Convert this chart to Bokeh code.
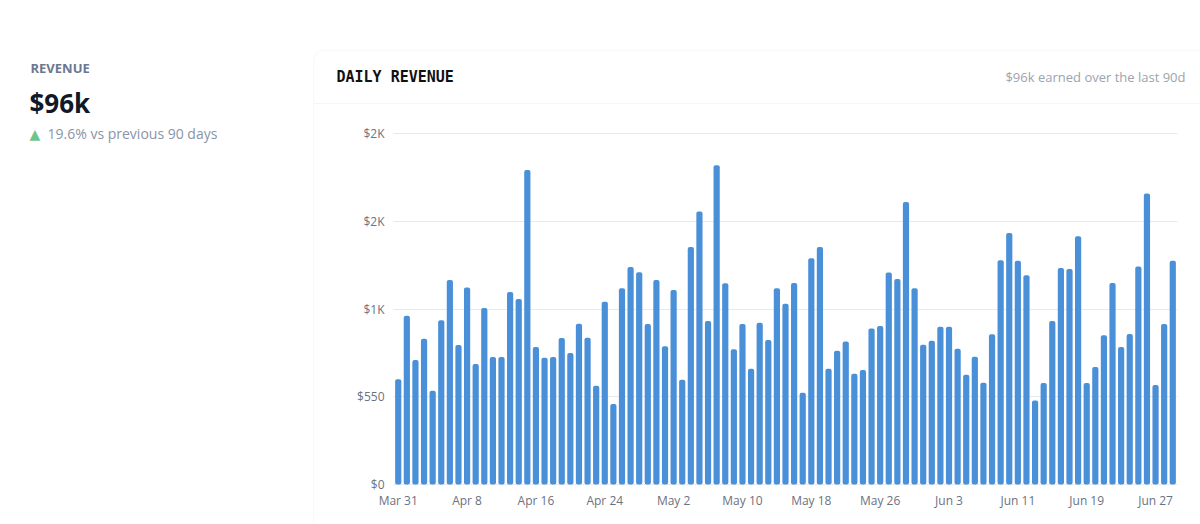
from bokeh.plotting import figure
from bokeh.models import ColumnDataSource, FixedTicker, Label, BoxAnnotation, Range1d, Grid
from bokeh.embed import file_html
from bokeh.resources import INLINE

# ---------------- data ----------------
revenue = [
    659, 1058, 780, 914, 588, 1029, 1282, 874, 1234, 755,
    1106, 799, 799, 1207, 1163, 1972, 862, 795, 799, 918,
    824, 1008, 920, 619, 1146, 504, 1230, 1363, 1330, 1006,
    1282, 866, 1219, 657, 1489, 1711, 1025, 2001, 1261, 847,
    1006, 726, 1014, 905, 1230, 1133, 1263, 575, 1418, 1489,
    726, 839, 897, 694, 717, 977, 993, 1328, 1288, 1771,
    1230, 876, 901, 989, 989, 851, 688, 801, 638, 941,
    1405, 1577, 1403, 1311, 527, 636, 1025, 1357, 1351, 1556,
    636, 736, 935, 1263, 862, 943, 1366, 1824, 623, 1006,
    1403,
]
day_index = list(range(len(revenue)))
x_tick_positions = [0, 8, 16, 24, 32, 40, 48, 56, 64, 72, 80, 88]
x_tick_labels = ["Mar 31", "Apr 8", "Apr 16", "Apr 24", "May 2", "May 10",
                 "May 18", "May 26", "Jun 3", "Jun 11", "Jun 19", "Jun 27"]
y_tick_values = [0, 550, 1100, 1650, 2200]
y_tick_labels = ["$0", "$550", "$1K", "$2K", "$2K"]

# ---------------- layout constants ----------------
W, H = 1200, 524
PL, PR, PT, PB = 393, 1177, 133, 484   # chart plotting area in page pixels
X0, X1 = -0.55, len(revenue) - 1 + 0.55
Y0, Y1 = 0, 2200

def dx(px):
    return X0 + (px - PL) * (X1 - X0) / (PR - PL)

def dy(py):
    return Y0 + (PB - py) * (Y1 - Y0) / (PB - PT)

p = figure(width=W, height=H, output_backend="svg", toolbar_location=None,
           x_range=Range1d(dx(0), dx(W)), y_range=Range1d(dy(H), dy(0)),
           min_border=0, min_border_left=0, min_border_right=0,
           min_border_top=0, min_border_bottom=0,
           background_fill_color="white", border_fill_color="white")
p.outline_line_color = None

# card border and header divider
card = BoxAnnotation(left=dx(313), right=dx(1260), top=dy(50), bottom=dy(580),
                     fill_color=None, fill_alpha=0, line_color="#e4e7ec", line_width=1,
                     border_radius=10, level="underlay")
p.add_layout(card)
divider = BoxAnnotation(left=dx(313.5), right=dx(1260), top=dy(103), bottom=dy(103),
                        fill_alpha=0, line_color="#eef0f3", line_width=1, level="underlay")
p.add_layout(divider)

# horizontal grid limited to the plotting area
grid_color = "#e6e9ef"
p.xgrid.grid_line_color = None
if "cross_bounds" in Grid.properties():
    p.ygrid.grid_line_color = grid_color
    p.ygrid.cross_bounds = (dx(PL), dx(PR))
    p.ygrid.level = "underlay"
else:
    p.ygrid.grid_line_color = None
    p.segment(x0=[dx(PL)] * len(y_tick_values), x1=[dx(PR)] * len(y_tick_values),
              y0=y_tick_values, y1=y_tick_values, line_color=grid_color, line_width=1,
              level="underlay")

src = ColumnDataSource(dict(x=day_index, top=revenue))
p.vbar(x="x", top="top", width=0.72, bottom=0, source=src,
       fill_color="#4a90d9", line_color=None, border_radius=2)

# axes placed at fixed locations inside the full-canvas frame
p.xaxis.fixed_location = 0
p.yaxis.fixed_location = dx(PL)
p.xaxis.ticker = FixedTicker(ticks=x_tick_positions)
p.xaxis.major_label_overrides = {t: l for t, l in zip(x_tick_positions, x_tick_labels)}
p.yaxis.ticker = FixedTicker(ticks=y_tick_values)
p.yaxis.major_label_overrides = {t: l for t, l in zip(y_tick_values, y_tick_labels)}
for ax in (p.xaxis[0], p.yaxis[0]):
    ax.axis_line_color = None
    ax.major_tick_line_color = None
    ax.minor_tick_line_color = None
    ax.major_tick_out = 0
    ax.major_tick_in = 0
    ax.major_label_text_color = "#6b7280"
    ax.major_label_text_font = "Open Sans"
    ax.major_label_text_font_size = "12px"
p.yaxis.major_label_standoff = 9
p.xaxis.major_label_standoff = 7

def lab(text, px, py, size, color, font="Open Sans", style="normal", align="left"):
    p.add_layout(Label(x=dx(px), y=dy(py), text=text, text_font=font,
                       text_font_size=size, text_color=color, text_font_style=style,
                       text_align=align, text_baseline="middle"))

lab("REVENUE", 30, 67, "13px", "#6b7890", style="bold")
lab("$96k", 29, 102, "26px", "#111827", style="bold")
lab("▲", 29, 133, "14px", "#6cc58e", font="DejaVu Sans")
lab("19.6% vs previous 90 days", 47, 133, "14px", "#8a94a6")
lab("DAILY REVENUE", 336, 76, "15px", "#111111", font="DejaVu Sans Mono", style="bold")
lab("$96k earned over the last 90d", 1185, 76, "13px", "#9ca3af", align="right")

open("out.html", "w").write(file_html(p, INLINE))
